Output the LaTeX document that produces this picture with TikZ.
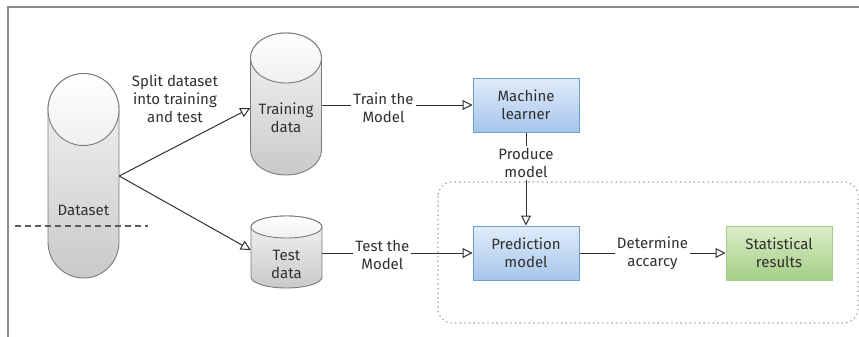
\documentclass[tikz,border=0pt]{standalone}
\usepackage{fontspec}
\setmainfont{Fira Sans}
\usetikzlibrary{arrows.meta}

\definecolor{ink}{HTML}{303030}
\definecolor{framec}{HTML}{8C8C8C}
\definecolor{cylline}{HTML}{7A7A7A}
\definecolor{bluetop}{HTML}{E0ECFA}
\definecolor{bluebot}{HTML}{A6C5EA}
\definecolor{blueline}{HTML}{6C9ED6}
\definecolor{greentop}{HTML}{DCEDC8}
\definecolor{greenbot}{HTML}{A4CE85}
\definecolor{greenline}{HTML}{A5CB8B}

\tikzset{
  txt/.style={font=\fontsize{15}{18}\selectfont, text=ink, align=center, inner sep=1pt},
  lbl/.style={txt, fill=white, inner sep=2pt},
  anch/.style={inner sep=0pt, minimum width=71pt},
  cylbody/.style={draw=cylline, line width=0.9pt, top color=gray!8, bottom color=gray!42},
  cyltop/.style={draw=cylline, line width=0.9pt, top color=white, bottom color=gray!12},
  procbox/.style={txt, draw=blueline, line width=1pt, top color=bluetop, bottom color=bluebot,
    minimum width=106pt, minimum height=54pt, inner sep=0pt},
  resbox/.style={procbox, draw=greenline, top color=greentop, bottom color=greenbot},
  conn/.style={draw=ink, line width=1pt, -{Triangle[open, length=10pt, width=10pt, line width=1pt]}},
  groupbox/.style={draw=gray!75, line width=1.1pt, dash pattern=on 1.4pt off 3.2pt, rounded corners=14pt}
}

% cylinder: centre x, half width, top ellipse y, ellipse y-radius, bottom ellipse y
\newcommand\drawcyl[5]{%
  \path[cylbody] (#1-#2,#3) arc[start angle=180, end angle=360, x radius=#2, y radius=#4]
    -- (#1+#2,#5) arc[start angle=0, end angle=180, x radius=#2, y radius=#4] -- cycle;
  \path[cyltop] (#1,#3) ellipse[x radius=#2, y radius=#4];
}

\begin{document}
\begin{tikzpicture}[x=1pt, y=-1pt]
  \useasboundingbox (0,0) rectangle (859,337);

  % outer frame (top and left edges)
  \draw[framec, line width=1.5pt] (859,7) -- (8,7) -- (8,337);

  % data stores
  \drawcyl{83.5}{35.5}{109.5}{36}{242}
  \drawcyl{286}{35.5}{58}{25}{150}
  \drawcyl{286.5}{35.5}{227}{11}{277}

  % dashed split marker across the dataset
  \draw[ink!80, line width=1.3pt, dash pattern=on 6pt off 4pt] (15,226) -- (148,226);

  % anchor boxes for the stores
  \node[anch, minimum height=205pt] (ds) at (83.5,176) {};
  \node[anch, minimum height=142pt] (train) at (286,105) {};
  \node[anch, minimum height=72pt] (test) at (286.5,253) {};

  % store captions
  \node[txt] (dslbl) at (83.5,210) {Dataset};
  \node[txt] (trainlbl) at (286,118) {Training\\data};
  \node[txt] (testlbl) at (286.5,264) {Test\\data};

  % evaluation group
  \draw[groupbox] (438,182) rectangle (858,323);

  % process boxes
  \node[procbox] (ml) at (526,105) {Machine\\learner};
  \node[procbox] (pred) at (526,253) {Prediction\\model};
  \node[resbox] (stat) at (779,253) {Statistical\\results};

  % split of the dataset
  \node[txt] (splitlbl) at (175,99) {Split dataset\\into training\\and test};
  \draw[conn] (ds.east) -- ([yshift=-3pt]train.west);
  \draw[conn] (ds.east) -- ([yshift=3pt]test.west);

  % flow
  \draw[conn] (train.east) -- node[lbl, pos=0.41, yshift=-3pt] (trainedge) {Train the\\Model} (ml.west);
  \draw[conn] (test.east) -- node[lbl, pos=0.40, yshift=-2pt] (testedge) {Test the\\Model} (pred.west);
  \draw[conn] (ml.south) -- node[lbl, pos=0.33] (prodedge) {Produce\\model} (pred.north);
  \draw[conn] (pred.east) -- node[lbl, pos=0.5] (detedge) {Determine\\accarcy} (stat.west);
\end{tikzpicture}
\end{document}
